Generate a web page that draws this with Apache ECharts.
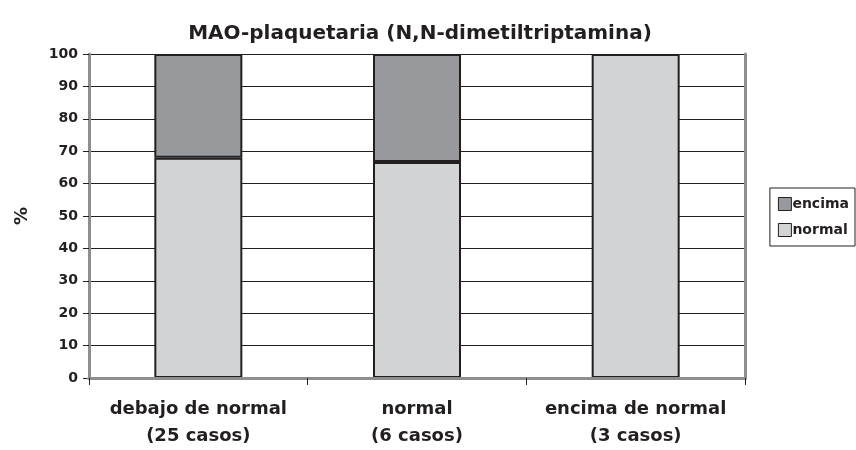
<!DOCTYPE html>
<html>
<head>
<meta charset="utf-8">
<script src="https://cdn.jsdelivr.net/npm/echarts@6/dist/echarts.min.js"></script>
<style>
  html, body { margin: 0; padding: 0; background: #fff; }
  #chart { width: 856px; height: 450px; }
</style>
</head>
<body>
<div id="chart"></div>
<script>
var categories = ['debajo de normal\n(25 casos)', 'normal\n(6 casos)', 'encima de normal\n(3 casos)'];
var normalValues = [68, 66.7, 100];
var encimaValues = [32, 33.3, 0];
var yTicks = [0, 10, 20, 30, 40, 50, 60, 70, 80, 90, 100];

var chart = echarts.init(document.getElementById('chart'), null, { renderer: 'canvas' });
var font = '"DejaVu Sans", "Liberation Sans", Arial, sans-serif';
var ink = '#231f20';
var frame = '#8e8e90';

// an empty segment draws nothing in the original, so skip zero-height bars
var noZero = function (arr) {
  return arr.map(function (v) { return v === 0 ? '-' : v; });
};

var option = {
  animation: false,
  backgroundColor: '#ffffff',
  title: {
    text: 'MAO-plaquetaria (N,N-dimetiltriptamina)',
    left: 415,
    textAlign: 'center',
    top: 19,
    textStyle: { fontFamily: font, fontWeight: 'bold', fontSize: 20, color: ink }
  },
  legend: {
    orient: 'vertical',
    right: 1,
    top: 188,
    padding: [9, 6, 9, 8],
    itemGap: 12,
    itemWidth: 13,
    itemHeight: 13,
    borderColor: ink,
    borderWidth: 1,
    icon: 'rect',
    data: ['encima', 'normal'],
    itemStyle: { borderColor: ink, borderWidth: 1 },
    textStyle: { fontFamily: font, fontWeight: 'bold', fontSize: 14, color: ink, padding: [0, 0, 0, -4] }
  },
  grid: {
    left: 89,
    right: 111,
    top: 54,
    bottom: 66,
    show: false
  },
  xAxis: [
    {
      type: 'category',
      data: categories,
      z: 10,
      axisLine: { show: true, lineStyle: { color: frame, width: 3 } },
      axisTick: { show: true, interval: 0, length: 7, lineStyle: { color: ink, width: 1 } },
      axisLabel: {
        interval: 0,
        fontFamily: font, fontWeight: 'bold', fontSize: 18, color: ink,
        margin: 18, lineHeight: 27
      }
    },
    {
      type: 'category',
      data: categories,
      position: 'top',
      z: 10,
      axisLine: { show: true, lineStyle: { color: frame, width: 3 } },
      axisTick: { show: false },
      axisLabel: { show: false }
    }
  ],
  yAxis: [
    {
      type: 'value',
      min: 0,
      max: 100,
      interval: 10,
      name: '%',
      nameLocation: 'middle',
      nameRotate: 90,
      nameGap: 58,
      nameTextStyle: { fontFamily: font, fontWeight: 'bold', fontSize: 18, color: ink },
      axisLine: { show: true, lineStyle: { color: frame, width: 3 } },
      axisTick: { show: true, length: 6, lineStyle: { color: ink, width: 1 } },
      axisLabel: {
        fontFamily: font, fontWeight: 'bold', fontSize: 14, color: ink, margin: 11,
        formatter: function (v) { return yTicks.indexOf(v) >= 0 ? String(v) : ''; }
      },
      splitLine: { show: true, lineStyle: { color: ink, width: 1 } }
    },
    {
      type: 'value',
      min: 0,
      max: 100,
      interval: 10,
      position: 'right',
      z: 10,
      axisLine: { show: true, lineStyle: { color: frame, width: 3 } },
      axisTick: { show: false },
      axisLabel: { show: false },
      splitLine: { show: false }
    }
  ],
  series: [
    {
      name: 'normal',
      type: 'bar',
      stack: 'total',
      z: 1,
      data: noZero(normalValues),
      barWidth: 88,
      itemStyle: { color: '#d2d3d5', borderColor: ink, borderWidth: 2 }
    },
    {
      name: 'encima',
      type: 'bar',
      stack: 'total',
      z: 1,
      data: noZero(encimaValues),
      barWidth: 88,
      itemStyle: { color: '#98999c', borderColor: ink, borderWidth: 2 }
    }
  ]
};

chart.setOption(option);
</script>
</body>
</html>
